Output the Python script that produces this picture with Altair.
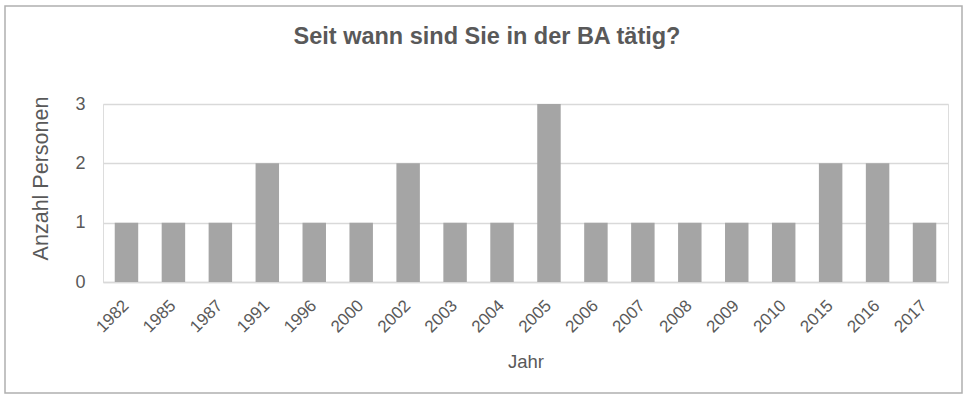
import altair as alt
import pandas as pd

years = ["1982", "1985", "1987", "1991", "1996", "2000", "2002", "2003", "2004",
         "2005", "2006", "2007", "2008", "2009", "2010", "2015", "2016", "2017"]
counts = [1, 1, 1, 2, 1, 1, 2, 1, 1, 3, 1, 1, 1, 1, 1, 2, 2, 1]
title_text = ["Seit wann sind Sie in der BA tätig?"]

df = pd.DataFrame({"Jahr": years, "Anzahl": counts})

FONT = "Liberation Sans"
GREY = "#595959"

bars = alt.Chart(df).mark_bar(color="#a5a5a5").encode(
    x=alt.X("Jahr:N", sort=years,
            scale=alt.Scale(paddingInner=0.5, paddingOuter=0.25),
            axis=alt.Axis(title="Jahr", labelAngle=-45, labelFontSize=17,
                          labelColor=GREY, titleColor=GREY, titleFontSize=18.5,
                          titleFont=FONT, labelFont=FONT, titleFontWeight="normal",
                          ticks=False, domainColor="#d9d9d9", domainWidth=1.5,
                          labelPadding=15, labelOffset=-6, titlePadding=17)),
    y=alt.Y("Anzahl:Q", scale=alt.Scale(domain=[0, 3]),
            axis=alt.Axis(title="Anzahl Personen", values=[0, 1, 2, 3], format="d",
                          labelFontSize=18, labelColor=GREY, titleColor=GREY,
                          titleFontSize=21.5, titleFont=FONT, labelFont=FONT,
                          titleFontWeight="normal", ticks=False, domain=False,
                          gridColor="#d9d9d9", gridWidth=1.5, labelPadding=18,
                          titlePadding=22, titleY=74)),
)

title = alt.Chart(alt.Data(values=[{"t": t} for t in title_text])).mark_text(
    font=FONT, fontSize=23.5, fontWeight="bold", color=GREY,
    align="center", baseline="middle"
).encode(
    text="t:N", x=alt.value(384), y=alt.value(-67)
)

border = alt.Chart(alt.Data(values=[{"a": 1}])).mark_rect(
    fill=None, stroke="#b0b0b0", strokeWidth=1.5
).encode(
    x=alt.value(-98), x2=alt.value(859), y=alt.value(-98), y2=alt.value(289)
)

chart = alt.layer(bars, title, border).properties(
    width=845, height=178,
    padding={"left": 103, "top": 104, "right": 17, "bottom": 112},
    autosize=alt.AutoSizeParams(type="none"),
).configure_view(stroke=None).configure(background="white")

chart.save("out.html", embed_options={"renderer": "svg", "actions": False})
